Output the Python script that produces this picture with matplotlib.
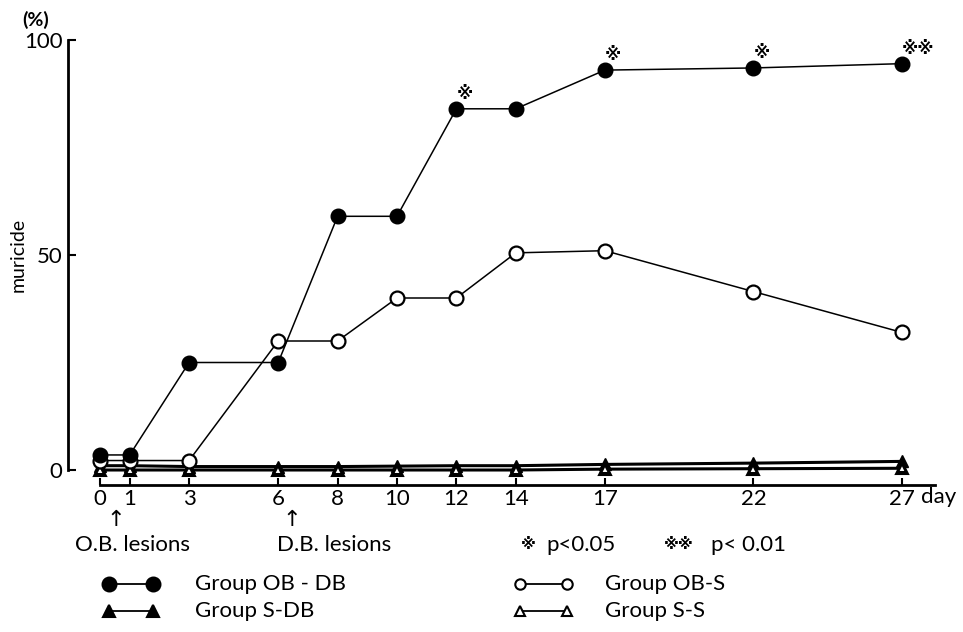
import numpy as np
import matplotlib.pyplot as plt
from matplotlib.lines import Line2D

plt.rcParams['font.family'] = ['Lato', 'DejaVu Sans', 'Noto Sans CJK JP']

# data
days = [0, 1, 3, 6, 8, 10, 12, 14, 17, 22, 27]
ob_db = [3.5, 3.5, 25, 25, 59, 59, 84, 84, 93, 93.5, 94.5]
ob_s = [2.2, 2.2, 2.2, 30, 30, 40, 40, 50.5, 51, 41.5, 32]
s_db = [1.0, 1.0, 0.8, 0.8, 0.8, 0.9, 1.0, 1.0, 1.3, 1.6, 2.0]
s_s = [0, 0, 0, 0, 0, 0, 0, 0, 0.2, 0.3, 0.4]
sig_days = [12, 17, 22, 27]
sig_marks = ['※', '※', '※', '※※']
sig_vals = [84, 93, 93.5, 94.5]

W, H = 963, 632
fig = plt.figure(figsize=(W / 100, H / 100), dpi=100)

def px(x, y):
    return (x / W, 1 - y / H)

# axes: left edge at px 68, right at 940, top 30, bottom 490
ax = fig.add_axes([68 / W, 1 - 490 / H, (940 - 68) / W, 460 / H])
ax.set_xlim(-32 / 29.7, (940 - 100) / 29.7)
ax.set_ylim(-20 / 4.3, 440 / 4.3)

lw = 1.1
ax.plot(days, s_s, color='black', lw=2.2, marker='^', ms=8, mfc='white', mec='black', mew=1.5, zorder=3)
ax.plot(days, s_db, color='black', lw=2.2, marker='^', ms=8.5, mfc='black', mec='black', zorder=2)
ax.plot(days, s_s, color='none', lw=0, marker='^', ms=5.5, mfc='white', mec='black', mew=1.5, zorder=4)
ax.plot(days, ob_s, color='black', lw=lw, marker='o', ms=10, mfc='white', mec='black', mew=1.6, zorder=5)
ax.plot(days, ob_db, color='black', lw=lw, marker='o', ms=10.5, mfc='black', mec='black', zorder=6)

# significance marks
for d, v, m in zip(sig_days, sig_vals, sig_marks):
    ax.annotate(m, (d, v), xytext=(0, 5), textcoords='offset points',
                fontsize=12, fontweight='bold', ha='left', va='bottom')

for s in ['top', 'right']:
    ax.spines[s].set_visible(False)
ax.spines['left'].set_bounds(0, 100)
ax.spines['left'].set_linewidth(2)
ax.spines['bottom'].set_position(('data', -15 / 4.3))
ax.spines['bottom'].set_bounds(0, 28.1)
ax.spines['bottom'].set_linewidth(2)

ax.set_yticks([0, 50, 100])
ax.set_yticklabels(['0', '50', '100'])
ax.set_xticks(days)
ax.set_xticklabels([str(d) for d in days])
ax.tick_params(axis='y', direction='in', length=6, width=1.5, pad=4, labelsize=16)
ax.tick_params(axis='x', direction='in', length=5, width=1.5, pad=3, labelsize=16)

fig.text(*px(18, 255), 'muricide', fontsize=14, rotation=90, ha='center', va='center')
fig.text(*px(36, 20), '(%)', fontsize=14, ha='center', va='center', fontweight='bold')
fig.text(*px(921, 497), 'day', fontsize=16, ha='left', va='center')

# lesion arrows and labels
fig.text(*px(116, 520), '↑', fontsize=16, ha='center', va='center', family=['DejaVu Sans'])
fig.text(*px(292, 520), '↑', fontsize=16, ha='center', va='center', family=['DejaVu Sans'])
fig.text(*px(75, 545), 'O.B. lesions', fontsize=16, ha='left', va='center')
fig.text(*px(277, 545), 'D.B. lesions', fontsize=16, ha='left', va='center')
fig.text(*px(521, 545), '※', fontsize=11, ha='left', va='center', fontweight='bold')
fig.text(*px(546, 545), 'p<0.05', fontsize=16, ha='left', va='center')
fig.text(*px(664, 545), '※※', fontsize=11, ha='left', va='center', fontweight='bold')
fig.text(*px(711, 545), 'p< 0.01', fontsize=16, ha='left', va='center')

# legend drawn by hand
def legend_row(x1, x2, y, marker, filled, ms, label, tx):
    a, b = px(x1, y)
    c, _ = px(x2, y)
    fig.add_artist(Line2D([a, c], [b, b], transform=fig.transFigure, color='black', lw=1.3,
                          marker=marker, ms=ms, mfc='black' if filled else 'white',
                          mec='black', mew=1.5))
    fig.text(*px(tx, y), label, fontsize=16, ha='left', va='center')

legend_row(109, 153, 584, 'o', True, 10, 'Group OB - DB', 195)
legend_row(109, 153, 611, '^', True, 9, 'Group S-DB', 195)
legend_row(520, 567, 584, 'o', False, 7.5, 'Group OB-S', 605)
legend_row(520, 567, 611, '^', False, 7.5, 'Group S-S', 605)

plt.savefig('out.png', dpi=100)
